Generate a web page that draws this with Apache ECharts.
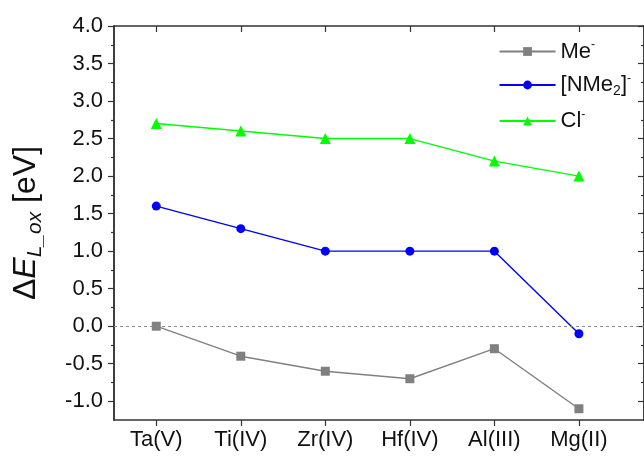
<!DOCTYPE html>
<html>
<head>
<meta charset="utf-8">
<script src="https://cdn.jsdelivr.net/npm/echarts@6/dist/echarts.min.js"></script>
<style>
  html, body { margin: 0; padding: 0; background: #fff; }
  #chart { width: 644px; height: 458px; }
</style>
</head>
<body>
<div id="chart"></div>
<script>
// values
const categories = ['Ta(V)', 'Ti(IV)', 'Zr(IV)', 'Hf(IV)', 'Al(III)', 'Mg(II)'];
const meValues = [0.0, -0.4, -0.6, -0.7, -0.3, -1.1];
const nme2Values = [1.6, 1.3, 1.0, 1.0, 1.0, -0.1];
const clValues = [2.7, 2.6, 2.5, 2.5, 2.2, 2.0];
const yMajorTicks = [-1.0, -0.5, 0.0, 0.5, 1.0, 1.5, 2.0, 2.5, 3.0, 3.5, 4.0];
const yMinorTicks = [-0.75, -0.25, 0.25, 0.75, 1.25, 1.75, 2.25, 2.75, 3.25, 3.75];
const xTicks = [1, 2, 3, 4, 5, 6];

const chart = echarts.init(document.getElementById('chart'));
const font = 'Liberation Sans, Arial, sans-serif';
const axisColor = '#333';

// categories sit at x = 1..6 on a value axis
const toPoints = vals => vals.map((v, i) => [i + 1, v]);

function yAxisDef(pos, ticks, len, inside, labels) {
  return {
    type: 'value', position: pos, min: -1.25, max: 4,
    axisLine: { show: true, onZero: false, lineStyle: { color: axisColor, width: 1.5 } },
    axisTick: { show: true, customValues: ticks, length: len, inside: inside,
      lineStyle: { color: axisColor, width: 1.2 } },
    axisLabel: labels ? {
      show: true, customValues: ticks, color: '#111', fontSize: 22, fontFamily: font,
      margin: 11, formatter: v => v.toFixed(1)
    } : { show: false },
    splitLine: { show: false }
  };
}

const option = {
  backgroundColor: '#fff',
  animation: false,
  grid: { left: 114, right: -3, top: 26, bottom: 38 },
  legend: {
    top: 34, right: 8, orient: 'vertical', itemGap: 10,
    itemWidth: 56, itemHeight: 11,
    textStyle: {
      fontSize: 22, fontFamily: font, color: '#111',
      rich: {
        n: { fontSize: 22, fontFamily: font, color: '#111' },
        sup: { fontSize: 12, fontFamily: font, color: '#111', padding: [0, 0, 13, 0] },
        sub: { fontSize: 14, fontFamily: font, color: '#111', padding: [13, 0, 0, 0] }
      }
    },
    formatter: name => ({
      'Me-': '{n|Me}{sup|-}',
      'NMe2': '{n|[NMe}{sub|2}{n|]}{sup|-}',
      'Cl-': '{n|Cl}{sup|-}'
    })[name],
    data: ['Me-', 'NMe2', 'Cl-']
  },
  xAxis: [
    {
      type: 'value', position: 'bottom', min: 0.5, max: 6.77,
      axisLine: { show: true, onZero: false, lineStyle: { color: axisColor, width: 1.5 } },
      axisTick: { show: true, customValues: xTicks, length: 6, lineStyle: { color: axisColor, width: 1.2 } },
      axisLabel: {
        show: true, customValues: xTicks, fontSize: 22, fontFamily: font, color: '#111', margin: 9,
        formatter: v => categories[Math.round(v) - 1] || ''
      },
      splitLine: { show: false }
    },
    {
      type: 'value', position: 'top', min: 0.5, max: 6.77,
      axisLine: { show: true, onZero: false, lineStyle: { color: axisColor, width: 1.5 } },
      axisTick: { show: true, customValues: xTicks, length: 6, inside: true, lineStyle: { color: axisColor, width: 1.2 } },
      axisLabel: { show: false },
      splitLine: { show: false }
    }
  ],
  yAxis: [
    Object.assign(yAxisDef('left', yMajorTicks, 6, false, true), {
      name: '{a|Δ}{e|E}{s|L_ox}{a| [eV]}',
      nameLocation: 'middle', nameRotate: 90, nameGap: 68,
      nameTextStyle: {
        rich: {
          a: { fontSize: 32, fontFamily: font, color: '#111' },
          e: { fontSize: 32, fontFamily: font, color: '#111', fontStyle: 'italic' },
          s: { fontSize: 21, fontFamily: font, color: '#111', fontStyle: 'italic', padding: [18, 0, 0, 0] }
        }
      }
    }),
    yAxisDef('left', yMinorTicks, 3, false, false),
    yAxisDef('right', yMajorTicks, 6, true, false),
    yAxisDef('right', yMinorTicks, 3, true, false)
  ],
  series: [
    {
      name: 'Me-', type: 'line', data: toPoints(meValues),
      symbol: 'rect', symbolSize: 9,
      lineStyle: { color: '#808080', width: 1.4 },
      itemStyle: { color: '#808080' },
      markLine: {
        silent: true, symbol: 'none', label: { show: false },
        lineStyle: { color: '#888', type: [3, 3], width: 1 },
        data: [{ yAxis: 0 }]
      }
    },
    {
      name: 'NMe2', type: 'line', data: toPoints(nme2Values),
      symbol: 'circle', symbolSize: 9,
      lineStyle: { color: '#0000ff', width: 1.4 },
      itemStyle: { color: '#0000ff' }
    },
    {
      name: 'Cl-', type: 'line', data: toPoints(clValues),
      symbol: 'triangle', symbolSize: 11,
      lineStyle: { color: '#00ff00', width: 1.4 },
      itemStyle: { color: '#00ff00' }
    }
  ]
};
chart.setOption(option);
</script>
</body>
</html>
